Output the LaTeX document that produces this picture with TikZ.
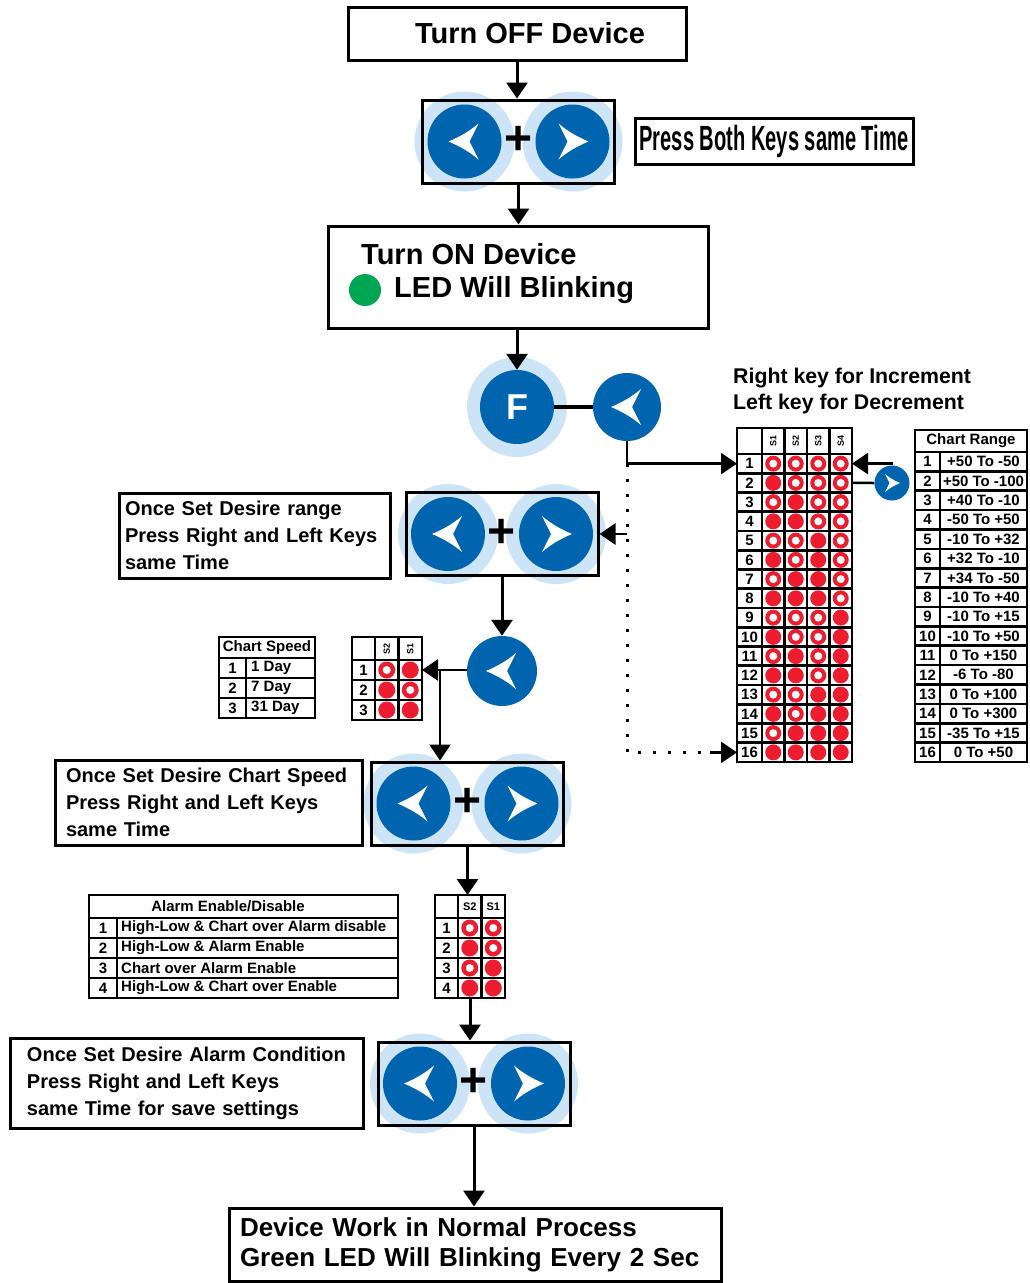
\documentclass[tikz,border=0pt]{standalone}
\usepackage{fontspec}
\usepackage{graphicx}
\setmainfont{Liberation Sans}
\usetikzlibrary{arrows.meta,calc}
\definecolor{kblue}{RGB}{0,100,175}
\definecolor{khalo}{RGB}{205,228,246}
\definecolor{ledred}{RGB}{237,28,46}
\definecolor{ledgreen}{RGB}{0,166,81}
\tikzset{
 every node/.style={font=\bfseries},
 box/.style={draw, line width=3pt, fill=white, inner sep=0},
 keybox/.style={draw, line width=3pt, inner sep=0},
 halo/.style={circle, fill=khalo, minimum size=100pt, inner sep=0},
 keyc/.style={circle, fill=kblue, minimum size=74pt, inner sep=0},
 arr/.style={line width=3pt, -{Triangle[length=16pt,width=21pt]}},
 conn/.style={line width=2.5pt},
 dotline/.style={line width=3pt, dash pattern=on 3pt off 12pt},
 txt/.style={inner sep=0},
 big/.style={font=\bfseries\fontsize{29}{32}\selectfont},
 side/.style={font=\bfseries\fontsize{20}{27}\selectfont},
 tfont/.style={inner sep=0, font=\bfseries\fontsize{15}{15}\selectfont},
 grid/.style={line width=2.6pt},
 plus/.style={inner sep=0, font=\bfseries\fontsize{48}{48}\selectfont},
 lchev/.pic={\fill[white] (-16,0) .. controls (-4,-5) and (6,-11) .. (14,-18) -- (5,0) -- (14,18) .. controls (6,11) and (-4,5) .. cycle;},
 rchev/.pic={\fill[white] (16,0) .. controls (4,-5) and (-6,-11) .. (-14,-18) -- (-5,0) -- (-14,18) .. controls (-6,11) and (4,5) .. cycle;},
}
\newcommand\keypair[3]{%
 \node[halo] (#1lh) at (#2-54,#3) {};
 \node[halo] (#1rh) at (#2+54,#3) {};
 \node[keybox, minimum width=192pt, minimum height=83pt] (#1) at (#2,#3) {};
 \node[keyc] (#1l) at (#2-54,#3) {};
 \node[keyc] (#1r) at (#2+54,#3) {};
 \pic at (#1l) {lchev};
 \pic at (#1r) {rchev};
 \node[plus] (#1p) at (#2,#3-1) {+};
}
\newcommand\ledmark[4]{% x y on(1)/off(0) radius
 \ifnum#3=1 \fill[ledred] (#1,#2) circle[radius=#4pt];
 \else \fill[ledred] (#1,#2) circle[radius=#4pt]; \fill[white] (#1,#2) circle[radius=4pt];\fi}
\begin{document}
\begin{tikzpicture}[x=1pt,y=-1pt]
\useasboundingbox[fill=white] (0,0) rectangle (1029,1283);

% ---- top boxes
\node[box, big, minimum width=338pt, minimum height=53pt] (off) at (517,33.5) {\hspace{26pt}Turn OFF Device};
\keypair{ka}{518.5}{141.5}
\node[box, minimum width=278pt, minimum height=46pt] (pb) at (774,141) {\scalebox{0.575}[1]{\fontsize{35}{35}\selectfont Press Both Keys same Time}};

\node[box, minimum width=380pt, minimum height=102pt] (on) at (518,277) {};
\node[txt, big, anchor=west] (ont1) at (361,254) {Turn ON Device};
\node[circle, fill=ledgreen, minimum size=32pt, inner sep=0] (led) at (365,290) {};
\node[txt, big, anchor=west] (ont2) at (394,290) {LED Will Blinking};

% ---- F key and left key
\node[halo] (fh) at (517,407) {};
\node[keyc] (fk) at (517,407) {\color{white}\fontsize{36}{36}\selectfont F};
\node[keyc, minimum size=68pt] (lk) at (627,407) {};
\pic at (lk) {lchev};

\node[txt, anchor=west, align=left, font=\bfseries\fontsize{21.3}{25.5}\selectfont] (rkt) at (733,391) {Right key for Increment\\Left key for Decrement};

% ---- big switch table
\fill[white] (737,428) rectangle (852,762);
\foreach \k in {0,...,15}{\draw[grid] (737,454+\k*19.25) -- (852,454+\k*19.25);}
\foreach \xx in {762,784.5,807,829.5}{\draw[grid] (\xx,428) -- (\xx,762);}
\draw[grid] (737,428) rectangle (852,762);
\foreach \c in {1,...,4}{
  \pgfmathsetmacro\xc{762+(\c-0.5)*22.5}
  \node[inner sep=0, rotate=90, font=\bfseries\fontsize{9}{9}\selectfont] (bth\c) at (\xc,441) {S\c};
}
\foreach \r in {1,...,16}{
  \pgfmathsetmacro\yc{454+(\r-0.5)*19.25}
  \node[tfont] (btn\r) at (749.5,\yc) {\r};
  \pgfmathtruncatemacro\v{\r-1}
  \foreach \c in {1,...,4}{
    \pgfmathtruncatemacro\b{mod(floor(\v/pow(2,\c-1)),2)}
    \pgfmathsetmacro\xc{762+(\c-0.5)*22.5}
    \ledmark{\xc}{\yc}{\b}{8}
  }
}
\coordinate (bt1w) at (737,463.6);
\coordinate (bt16w) at (737,752.4);
\coordinate (bt1e) at (852,463.6);
\coordinate (bt2e) at (852,482.9);

% ---- chart range table
\fill[white] (915,430) rectangle (1027,762);
\foreach \k in {0,...,15}{\draw[grid] (915,452+\k*19.375) -- (1027,452+\k*19.375);}
\draw[grid] (940,452) -- (940,762);
\draw[grid] (915,430) rectangle (1027,762);
\node[tfont] (crh) at (971,441) {Chart Range};
\foreach \r/\t in {1/+50 To -50,2/+50 To -100,3/+40 To -10,4/-50 To +50,5/-10 To +32,6/+32 To -10,7/+34 To -50,8/-10 To +40,9/-10 To +15,10/-10 To +50,11/0 To +150,12/-6 To -80,13/0 To +100,14/0 To +300,15/-35 To +15,16/0 To +50}{
  \pgfmathsetmacro\yc{452+(\r-0.5)*19.375}
  \node[tfont] (crn\r) at (927.5,\yc) {\r};
  \node[tfont] (crt\r) at (983.5,\yc) {\t};
}

% ---- small right key
\node[keyc, minimum size=35pt] (rk) at (892,483) {};
\pic[scale=0.5] at (rk) {rchev};

% ---- key pair 2 and text
\keypair{kb}{502}{534}
\node[box, side, minimum width=271pt, minimum height=85pt, text width=259pt, align=left, inner xsep=6pt] (tb2) at (254.5,535.5) {Once Set Desire range\\Press Right and Left Keys\\same Time};

% ---- speed left key
\node[keyc, minimum size=70pt] (sk) at (502,671) {};
\pic at (sk) {lchev};

% ---- chart speed text table
\fill[white] (219,637) rectangle (315,718);
\foreach \yy in {658,678,698}{\draw[grid] (219,\yy) -- (315,\yy);}
\draw[grid] (246,658) -- (246,718);
\draw[grid] (219,637) rectangle (315,718);
\node[tfont] (csh) at (267,647.5) {Chart Speed};
\foreach \r/\t in {1/1 Day,2/7 Day,3/31 Day}{
  \pgfmathsetmacro\yc{658+(\r-0.5)*20}
  \node[tfont] (csn\r) at (232.5,\yc) {\r};
  \node[tfont, anchor=west] (cst\r) at (251,\yc) {\t};
}

% ---- chart speed switch table
\fill[white] (352,637) rectangle (422,720);
\foreach \yy in {660,680,700}{\draw[grid] (352,\yy) -- (422,\yy);}
\foreach \xx in {375,398.5}{\draw[grid] (\xx,637) -- (\xx,720);}
\draw[grid] (352,637) rectangle (422,720);
\node[inner sep=0, rotate=90, font=\bfseries\fontsize{9}{9}\selectfont] (ssh1) at (386.75,648.5) {S2};
\node[inner sep=0, rotate=90, font=\bfseries\fontsize{9}{9}\selectfont] (ssh2) at (410.25,648.5) {S1};
\foreach \r/\a/\b in {1/0/1,2/1/0,3/1/1}{
  \pgfmathsetmacro\yc{660+(\r-0.5)*20}
  \node[tfont] (ssn\r) at (363.5,\yc) {\r};
  \ledmark{386.75}{\yc}{\a}{8.5}
  \ledmark{410.25}{\yc}{\b}{8.5}
}
\coordinate (st1e) at (422,670);

% ---- key pair 3 and text
\keypair{kc}{467.5}{803.5}
\node[box, side, minimum width=307pt, minimum height=85pt, text width=285pt, align=left, inner xsep=11pt] (tb3) at (208.5,802.5) {Once Set Desire Chart Speed\\Press Right and Left Keys\\same Time};

% ---- alarm text table
\fill[white] (89,895) rectangle (398,998);
\foreach \yy in {918,938,958,978}{\draw[grid] (89,\yy) -- (398,\yy);}
\draw[grid] (117,918) -- (117,998);
\draw[grid] (89,895) rectangle (398,998);
\node[tfont] (ath) at (228,906.5) {Alarm Enable/Disable};
\foreach \r/\t in {1/High-Low \& Chart over Alarm disable,2/High-Low \& Alarm Enable,3/Chart over Alarm Enable,4/High-Low \& Chart over Enable}{
  \pgfmathsetmacro\yc{918+(\r-0.5)*20}
  \node[tfont] (atn\r) at (103,\yc) {\r};
  \node[tfont, anchor=west] (att\r) at (121,\yc) {\t};
}

% ---- alarm switch table
\fill[white] (435,895) rectangle (505,998);
\foreach \yy in {918,938,958,978}{\draw[grid] (435,\yy) -- (505,\yy);}
\foreach \xx in {458,481.5}{\draw[grid] (\xx,895) -- (\xx,998);}
\draw[grid] (435,895) rectangle (505,998);
\node[inner sep=0, font=\bfseries\fontsize{11}{11}\selectfont] (ash1) at (469.75,906.5) {S2};
\node[inner sep=0, font=\bfseries\fontsize{11}{11}\selectfont] (ash2) at (493.25,906.5) {S1};
\foreach \r/\a/\b in {1/0/0,2/1/0,3/0/1,4/1/1}{
  \pgfmathsetmacro\yc{918+(\r-0.5)*20}
  \node[tfont] (asn\r) at (446.5,\yc) {\r};
  \ledmark{469.75}{\yc}{\a}{8.5}
  \ledmark{493.25}{\yc}{\b}{8.5}
}
\coordinate (atn) at (467.5,895);
\coordinate (ats) at (470,998);

% ---- key pair 4 and text
\keypair{kd}{474}{1083.5}
\node[box, side, minimum width=353pt, minimum height=90pt, text width=319pt, align=left, inner xsep=17pt] (tb4) at (186.5,1083) {Once Set Desire Alarm Condition\\Press Right and Left Keys\\same Time for save settings};

% ---- final box
\node[box, minimum width=492pt, minimum height=73pt, text width=470pt, align=left, inner xsep=11pt, font=\bfseries\fontsize{26}{30}\selectfont] (fin) at (475,1244.5) {Device Work in Normal Process\\Green LED Will Blinking Every 2 Sec};

% ---- connectors
\draw[arr] (off.south) -- (off.south |- ka.north);
\draw[arr] (ka.south) -- (ka.south |- on.north);
\draw[arr] (fk |- on.south) -- (fk.north);
\draw[line width=4pt] (fk.east) -- (lk.west);
\draw[arr, line width=2.5pt] (lk.south) |- (bt1w);
\coordinate (j1) at (lk.south |- bt1w);
\coordinate (dend) at (710,752.4);
\draw[dotline] (j1) |- (dend);
\draw[arr, line width=2.5pt] (dend) -- (bt16w);
\draw[arr, line width=2.5pt] (j1 |- kb.east) -- (kb.east);
\draw[arr, line width=2.5pt] (rk.north) |- (bt1e);
\draw[conn] (rk.west) -- (bt2e);
\draw[arr] (kb.south) -- (kb.south |- sk.north);
\draw[arr, line width=2.5pt] (st1e -| sk.west) -- (st1e);
\coordinate (j2) at (440,670);
\draw[arr, line width=2.5pt] (j2) -- (j2 |- kc.north);
\draw[arr] (kc.south) -- (atn);
\draw[arr] (ats) -- (ats |- kd.north);
\draw[arr] (kd.south) -- (kd.south |- fin.north);
\end{tikzpicture}
\end{document}
